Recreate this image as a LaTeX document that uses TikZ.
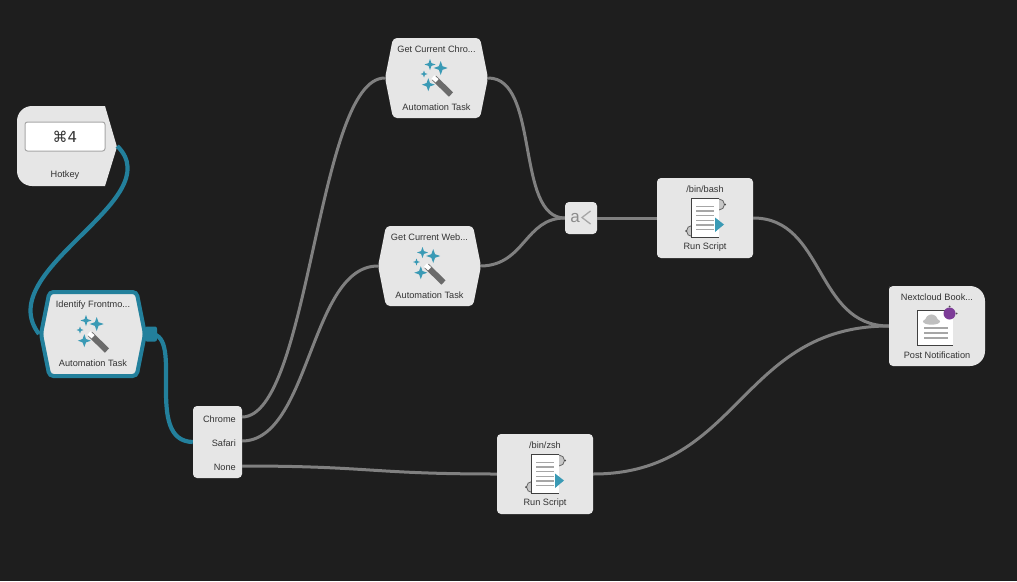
\documentclass[tikz,border=0pt]{standalone}
\usepackage{fontspec}
\setmainfont{Liberation Sans}
\newfontfamily\symfont{DejaVu Sans}
\usetikzlibrary{shapes.symbols}
\definecolor{canvas}{HTML}{1E1E1E}
\definecolor{panel}{HTML}{E6E6E6}
\definecolor{wireteal}{HTML}{23809C}
\definecolor{iconteal}{HTML}{3A9AB5}
\definecolor{wiregrey}{HTML}{808080}
\definecolor{inktext}{HTML}{333333}
\definecolor{badge}{HTML}{7D3C98}
\tikzset{wire/.style={line width=3pt,wiregrey}}
\tikzset{livewire/.style={line width=4.2pt,wireteal}}
\tikzset{tasktext/.style={font=\fontsize{9.2}{11}\selectfont,text=inktext,inner sep=0pt}}
\tikzset{boxnode/.style={fill=panel,rounded corners=4pt,inner sep=0pt}}
\tikzset{hexnode/.style={shape=signal,signal to=east and west,signal pointer angle=157.4,
    fill=panel,rounded corners=4pt,inner sep=0pt,minimum width=103pt,minimum height=80pt}}
\tikzset{framenode/.style={inner sep=0pt,minimum width=100pt,minimum height=80pt}}
\tikzset{wand/.pic={
    \foreach \sx/\sy/\sr in {3.7/-10/7,-7/-13.5/5.5,-13/-4/3.5,-8.7/6.7/6.5}
      \fill[iconteal] (\sx,\sy-\sr) -- (\sx+0.26*\sr,\sy-0.26*\sr) -- (\sx+\sr,\sy)
        -- (\sx+0.26*\sr,\sy+0.26*\sr) -- (\sx,\sy+\sr) -- (\sx-0.26*\sr,\sy+0.26*\sr)
        -- (\sx-\sr,\sy) -- (\sx-0.26*\sr,\sy-0.26*\sr) -- cycle;
    \draw[line width=6pt,color=black!58] (-3,0) -- (14,16.5);
    \draw[line width=4.4pt,color=white] (-4,-1) -- (0,2.8);
}}
\tikzset{scriptdoc/.pic={
    \draw[line width=0.8pt,fill=black!22,draw=black!60] (14,-13.5) circle (5.5pt);
    \draw[line width=0.8pt,fill=black!22,draw=black!60] (-13,13) circle (5.5pt);
    \fill[black!70] (20,-13.5) circle (1pt);
    \fill[black!70] (-19,13) circle (1pt);
    \fill[white] (-13.3,-20) rectangle (14,19.7);
    \draw[line width=1pt,color=black!75] (-13.3,19.7) -- (-13.3,-20) -- (14,-20);
    \draw[line width=1pt,color=black!75] (-13.3,19.7) -- (14,19.7);
    \foreach \ly in {-11.5,-7,-2.3,2.4,7,11.5}
      \draw[line width=1.1pt,color=black!35] (-9,\ly) -- (9,\ly);
    \fill[iconteal] (10,-0.5) -- (19,6.5) -- (10,14) -- cycle;
}}
\begin{document}
\begin{tikzpicture}[x=1pt,y=-1pt]

	  \useasboundingbox (0,0) rectangle (1017,581);
	  \fill[canvas] (0,0) rectangle (1017,581);

	  % hotkey trigger
	  \fill[panel] (105,106) [rounded corners=15pt] -- (17,106) -- (17,186) [sharp corners] -- (105,186) -- (117,147) -- cycle;
	  \node [framenode] (hotkey) at (67,146) {};
	  \node [fill=white,draw=black!35,line width=1pt,rounded corners=2.5pt,minimum width=80pt,minimum height=29pt,inner sep=0pt] (hotkeyKey) at (65,136.5) {\symfont\fontsize{15}{17}\selectfont\textcolor{inktext}{⌘4}};
	  \node [tasktext] (hotkeyCap) at (65,175) {Hotkey};

	  % tasks
	  \node [hexnode,draw=wireteal,line width=4pt,minimum width=104pt,minimum height=84pt] (identify) at (93,334) {};
	  \node [tasktext] (identifyTitle) at (93,305) {Identify Frontmo...};
	  \node [tasktext] (identifyCap) at (93,363) {Automation Task};
	  \pic at (93,334) {wand};
	  \node [fill=wireteal,rounded corners=2pt,minimum width=12pt,minimum height=15pt,inner sep=0pt] (identifyPort) at (151,334) {};

	  \node [hexnode] (chromeTask) at (436.5,78) {};
	  \node [tasktext] (chromeTitle) at (436.5,49) {Get Current Chro...};
	  \node [tasktext] (chromeCap) at (436.5,107) {Automation Task};
	  \pic at (437,78) {wand};

	  \node [hexnode] (webTask) at (429.5,266) {};
	  \node [tasktext] (webTitle) at (429.5,237) {Get Current Web...};
	  \node [tasktext] (webCap) at (429.5,295) {Automation Task};
	  \pic at (429.5,266) {wand};

	  % switch
	  \node [boxnode,minimum width=49pt,minimum height=72pt] (switcher) at (217.5,442) {};
	  \node [tasktext,anchor=east] (chromeLab) at (236,419) {Chrome};
	  \node [tasktext,anchor=east] (safariLab) at (236,443) {Safari};
	  \node [tasktext,anchor=east] (noneLab) at (236,467) {None};
	  \coordinate (chromeOut) at (242,417);
	  \coordinate (safariOut) at (242,441);
	  \coordinate (noneOut) at (242,466);

	  % merge
	  \node [boxnode,minimum width=32pt,minimum height=32pt] (merge) at (581,218) {};
	  \node [inner sep=0pt,text=black!45,font=\fontsize{17}{19}\selectfont] (mergeLab) at (575,218.5) {a};
	  \draw [line width=1.3pt,black!35] (590.5,211) -- (582,217.5) -- (590.5,224);

	  % scripts
	  \node [boxnode,minimum width=96pt,minimum height=80pt] (bashTask) at (705,218) {};
	  \node [tasktext] (bashTitle) at (705,189) {/bin/bash};
	  \node [tasktext] (bashCap) at (705,247) {Run Script};
	  \pic at (705,218) {scriptdoc};

	  \node [boxnode,minimum width=96pt,minimum height=80pt] (zshTask) at (545,474) {};
	  \node [tasktext] (zshTitle) at (545,445) {/bin/zsh};
	  \node [tasktext] (zshCap) at (545,503) {Run Script};
	  \pic at (545,474) {scriptdoc};

	  % notification
	  \fill[panel] (889,290) [rounded corners=4pt] -- (889,286) [rounded corners=15pt] -- (985,286) -- (985,366) [rounded corners=4pt] -- (889,366) -- cycle;
	  \node [framenode,minimum width=96pt] (notify) at (937,326) {};
	  \node [tasktext] (notifyTitle) at (937,297) {Nextcloud Book...};
	  \node [tasktext] (notifyCap) at (937,355) {Post Notification};
	  \fill[white] (917.5,310) rectangle (952.5,345);
	  \draw [line width=1pt,black!75] (952.5,345) -- (917.5,345) -- (917.5,310) -- (952.5,310);
	  \fill[black!25] (931.5,321.5) ellipse (8.5pt and 3.2pt);
	  \fill[black!25] (925,321.5) .. controls (925,312) and (938,312) .. (938,321.5) -- cycle;
	  \draw [line width=1.1pt,black!35] (924,328) -- (948,328);
	  \draw [line width=1.1pt,black!35] (924,333) -- (948,333);
	  \draw [line width=1.1pt,black!35] (924,338) -- (948,338);
	  \fill[black!70] (956.5,313.5) circle (1pt);
	  \fill[black!70] (949.5,306.5) circle (1pt);
	  \fill[badge] (949.5,313.5) circle (6pt);

	  % connectors
	  \draw [livewire] (hotkey.east) .. controls (172,200) and (-10,270) .. (identify.west);
	  \draw [livewire] (identifyPort.center) .. controls (185,335) and (143,441) .. (switcher.west);
	  \draw [wire] (chromeOut) .. controls (310,417) and (317,78) .. (chromeTask.west);
	  \draw [wire] (safariOut) .. controls (310,441) and (310,266) .. (webTask.west);
	  \draw [wire] (noneOut) .. controls (370,466) and (370,474) .. (zshTask.west);
	  \draw [wire] (chromeTask.east) .. controls (540,78) and (515,218) .. (merge.west);
	  \draw [wire] (webTask.east) .. controls (525,265) and (525,218) .. (merge.west);
	  \draw [wire] (merge.east) -- (bashTask.west);
	  \draw [wire] (bashTask.east) .. controls (825,218) and (815,326) .. (notify.west);
	  \draw [wire] (zshTask.east) .. controls (740,474) and (740,326) .. (notify.west);

\end{tikzpicture}
\end{document}
